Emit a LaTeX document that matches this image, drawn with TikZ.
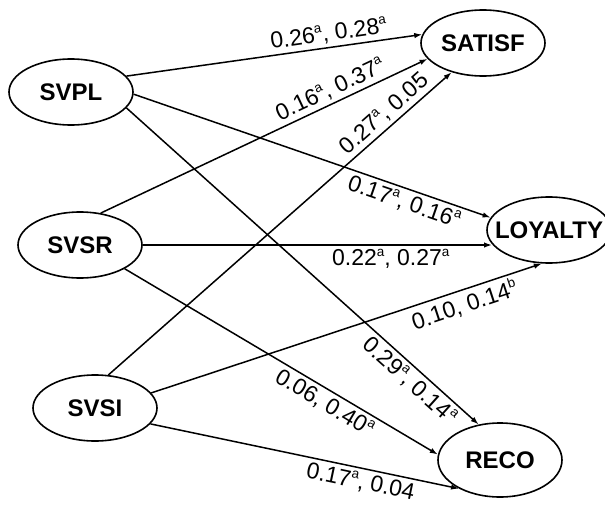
\documentclass[tikz,border=0pt]{standalone}
\usepackage{fontspec}
\setmainfont{Liberation Sans}
\usetikzlibrary{arrows.meta,shapes.geometric}
\newcommand\myss[1]{\raisebox{0.42em}{\fontsize{13.5pt}{13.5pt}\selectfont #1}}
\newcommand\nm[1]{\makebox[0pt]{#1}}
\begin{document}
\begin{tikzpicture}[x=1pt,y=-1pt,
  var/.style={draw, ellipse, line width=1.6pt, minimum width=124pt, minimum height=66pt, inner sep=0pt,
    font=\fontsize{24pt}{24pt}\selectfont\bfseries},
  conn/.style={line width=1.5pt, -{Latex[length=8pt,width=5.5pt]}},
  lab/.style={font=\fontsize{23pt}{23pt}\selectfont, sloped, inner sep=3pt}
]
\useasboundingbox (0,0) rectangle (605,506);
\node[var] (svpl) at (71,92) {\nm{SVPL}};
\node[var] (svsr) at (80,245) {\nm{SVSR}};
\node[var] (svsi) at (95,408) {\nm{SVSI}};
\node[var] (satisf) at (483,43) {\nm{SATISF}};
\node[var] (loyalty) at (549,230) {\nm{LOYALTY}};
\node[var, minimum height=74pt] (reco) at (500,460) {\nm{RECO}};

\draw[conn] (svpl.16) -- node[lab, above, pos=0.69] {0.26\myss{a}, 0.28\myss{a}} (satisf.172);
\draw[conn] (svsr.57) -- node[lab, above, pos=0.72] {0.16\myss{a}, 0.37\myss{a}} (satisf.196);
\draw[conn] (svsi.68) -- node[lab, above, pos=0.83] {0.27\myss{a}, 0.05} (satisf.223);
\draw[conn] (svpl.-2) -- node[lab, below, pos=0.77] {0.17\myss{a}, 0.16\myss{a}} (loyalty.168);
\draw[conn] (svsr.east) -- node[lab, below, pos=0.71] {0.22\myss{a}, 0.27\myss{a}} (loyalty.194 |- svsr.east);
\draw[conn] (svsi.15) -- node[lab, below, pos=0.79] {0.10, 0.14\myss{b}} (loyalty.258);
\draw[conn] (svpl.-16) -- node[lab, below, pos=0.83] {0.29\myss{a}, 0.14\myss{a}} (reco.121);
\draw[conn] (svsr.-28) -- node[lab, below, pos=0.66] {0.06, 0.40\myss{a}} (reco.175);
\draw[conn] (svsi.-16) -- node[lab, below, pos=0.69] {0.17\myss{a}, 0.04} (reco.215);
\end{tikzpicture}
\end{document}
